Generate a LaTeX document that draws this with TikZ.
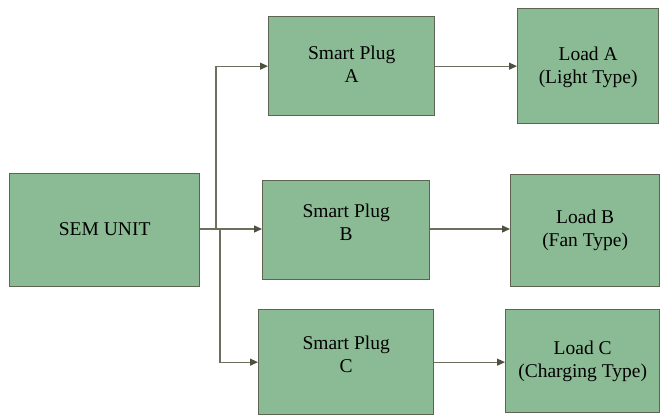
\documentclass[tikz,border=0pt]{standalone}
\usepackage{fontspec}
\setmainfont{Liberation Serif}
\usetikzlibrary{arrows.meta}
\definecolor{boxfill}{HTML}{8BBB94}
\definecolor{boxline}{HTML}{5E6452}
\definecolor{wire}{HTML}{6E6E5E}
\definecolor{tipc}{HTML}{4E5040}
\begin{document}
\begin{tikzpicture}[x=1pt,y=-1pt,
  blk/.style={draw=boxline,line width=1.3pt,fill=boxfill,rectangle,inner sep=0pt,anchor=north west},
  txt/.style={align=center,font=\fontsize{19.5}{23.3}\selectfont,inner sep=0pt,text=black},
  conn/.style={draw=wire,line width=1.2pt,-{Triangle[length=8pt,width=7pt,fill=tipc,color=tipc]}}]
\useasboundingbox (0,0) rectangle (660,418);
% boxes
\node[blk,minimum width=190pt,minimum height=113pt] (sem) at (9,173) {};
\node[blk,minimum width=166pt,minimum height=99pt] (pa) at (268,16) {};
\node[blk,minimum width=167pt,minimum height=99pt] (pb) at (262,180) {};
\node[blk,minimum width=175pt,minimum height=105pt] (pc) at (258,309) {};
\node[blk,minimum width=141pt,minimum height=115pt] (la) at (517,8) {};
\node[blk,minimum width=149pt,minimum height=112pt] (lb) at (510,174) {};
\node[blk,minimum width=154pt,minimum height=103pt] (lc) at (505,309) {};
% texts
\node[txt] (tsem) at ([yshift=1pt]sem.center) {SEM UNIT};
\node[txt] (tpa) at ([yshift=2pt]pa.center) {Smart Plug\\A};
\node[txt] (tpb) at ([yshift=8pt]pb.center) {Smart Plug\\B};
\node[txt] (tpc) at ([yshift=8pt]pc.center) {Smart Plug\\C};
\node[txt] (tla) at ([yshift=-1pt]la.center) {Load A\\(Light Type)};
\node[txt] (tlb) at (lb.center) {Load B\\(Fan Type)};
\node[txt] (tlc) at (lc.center) {Load C\\(Charging Type)};
% connectors
\coordinate (ja) at (216,229);
\coordinate (jc) at (220,229);
\draw[conn] (sem.east |- ja) -- (ja) |- (pa.west);
\draw[conn] (sem.east |- ja) -- (pb.west |- ja);
\draw[conn] (jc) |- (pc.west);
\draw[conn] (pa.east) -- (la.west |- pa.east);
\draw[conn] (pb.east |- ja) -- (lb.west |- ja);
\draw[conn] (pc.east) -- (lc.west |- pc.east);
\end{tikzpicture}
\end{document}
